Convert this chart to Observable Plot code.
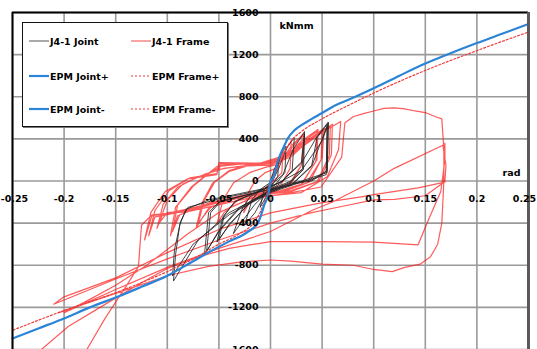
<!DOCTYPE html>
<html><head><meta charset="utf-8">
<script src="https://cdn.jsdelivr.net/npm/d3@7"></script>
<script src="https://cdn.jsdelivr.net/npm/@observablehq/plot@0.6"></script>
<style>
body{margin:0;background:#fff;}
#wrap{position:relative;width:537px;height:349px;overflow:hidden;font-family:"DejaVu Sans",sans-serif;}
#legend{position:absolute;left:22px;top:22px;width:204px;height:103px;border:1.5px solid #111;background:#fff;box-shadow:1px 1px 0 #777;}
.item{position:absolute;font-size:9.5px;font-weight:bold;display:flex;align-items:center;white-space:nowrap;color:#000;}
.item svg{margin-right:1px;}
</style></head>
<body><div id="wrap"><div id="chart"></div><div id="legend"></div></div>
<script>
// ---- tick values / labels ----
const xTicks = [-0.25,-0.2,-0.15,-0.1,-0.05,0,0.05,0.1,0.15,0.2,0.25];
const xTickLabels = ["-0.25","-0.2","-0.15","-0.1","-0.05","0","0.05","0.1","0.15","0.2","0.25"];
const yTicks = [1600,1200,800,400,0,-400,-800,-1200,-1600];
const yTickLabels = ["1600","1200","800","400","0","-400","-800","-1200","-1600"];

// ---- legend labels ----
const legendLabels = ["J4-1 Joint","J4-1 Frame","EPM Joint+","EPM Frame+","EPM Joint-","EPM Frame-"];

// ---- EPM skeleton curves [rad, kNmm] ----
const epmJointPos = [[0,0],[0.003,40],[0.0075,200],[0.0136,340],[0.0165,400],[0.023,480],[0.03,530],[0.04,590],[0.05,645],[0.062,715],[0.08,790],[0.1,880],[0.125,1000],[0.15,1115],[0.175,1215],[0.2,1310],[0.225,1400],[0.25,1490]];
const epmJointNeg = [[0,0],[-0.002,-120],[-0.006,-227],[-0.009,-320],[-0.012,-395],[-0.022,-483],[-0.041,-578],[-0.064,-700],[-0.086,-824],[-0.1,-900],[-0.125,-1005],[-0.147,-1095],[-0.175,-1200],[-0.2,-1305],[-0.225,-1400],[-0.25,-1495]];
const epmFramePos = [[0,0],[0.004,60],[0.009,170],[0.015,300],[0.02,380],[0.03,470],[0.05,590],[0.08,740],[0.1,835],[0.15,1050],[0.2,1238],[0.25,1415]];
const epmFrameNeg = [[0,0],[-0.003,-100],[-0.008,-250],[-0.015,-380],[-0.03,-500],[-0.05,-600],[-0.075,-740],[-0.1,-860],[-0.125,-965],[-0.15,-1060],[-0.2,-1230],[-0.25,-1418]];

// ---- J4-1 Joint test record ----
const joint = [[0,0],[0.004,120],[0.008,200],[0.007,40],[0,-60],[-0.006,-180],[-0.01,-250],[-0.006,-80],[0,-20],[0.005,80],
[0.01,250],[0.015,330],[0.014,80],[0.005,-30],[-0.005,-120],[-0.015,-300],[-0.025,-420],[-0.018,-180],[-0.01,-80],[0.002,0],[0.008,120],
[0.016,320],[0.023,410],[0.021,100],[0.01,-20],[0,-80],[-0.015,-220],[-0.028,-390],[-0.036,-500],[-0.028,-275],[-0.02,-150],[0,-40],[0.012,60],
[0.022,300],[0.033,470],[0.031,120],[0.02,0],[0,-80],[-0.02,-200],[-0.04,-420],[-0.052,-580],[-0.046,-340],[-0.035,-200],[-0.01,-90],[0.01,-10],[0.03,180],
[0.033,450],[0.032,110],[0.02,-10],[0,-90],[-0.02,-210],[-0.04,-410],[-0.05,-560],[-0.045,-330],[-0.034,-190],[-0.01,-90],[0.01,-10],[0.03,170],
[0.045,420],[0.056,560],[0.055,100],[0.04,10],[0.02,-20],[0,-90],[-0.03,-250],[-0.05,-470],[-0.064,-700],[-0.06,-300],[-0.05,-200],[-0.01,-100],[0.02,-40],[0.04,150],
[0.045,410],[0.055,540],[0.054,90],[0.04,0],[0.02,-30],[0,-100],[-0.03,-260],[-0.05,-480],[-0.062,-670],[-0.058,-300],[-0.048,-190],[-0.01,-100],[0.02,-40],[0.04,140],
[0.05,400],[0.056,550],[0.055,80],[0.03,0],[0,-100],[-0.04,-300],[-0.07,-560],[-0.094,-950],[-0.092,-700],[-0.088,-420],[-0.082,-270],[-0.06,-180],[-0.03,-120],[0,-60],
[0.03,100],[0.05,380],[0.055,520],[0.054,60],[0.03,-10],[0,-110],[-0.04,-320],[-0.075,-600],[-0.095,-900],[-0.093,-650],[-0.087,-380],[-0.08,-250],[-0.05,-170],[-0.02,-110],[0,-60]];

// ---- J4-1 Frame test record ----
const frame = [[0,0],[0.006,150],[0.012,280],[0.011,80],[0,-30],[-0.01,-90],[-0.02,-200],[-0.026,-300],[-0.022,-120],[-0.015,0],[-0.005,80],[0.005,120],
[0.012,250],[0.02,380],[0.019,120],[0.01,-40],[-0.01,-100],[-0.03,-170],[-0.045,-300],[-0.052,-410],[-0.046,-180],[-0.036,-20],[-0.02,80],[-0.005,130],[0.008,160],
[0.02,330],[0.032,450],[0.031,170],[0.02,-20],[0,-90],[-0.03,-140],[-0.06,-260],[-0.072,-440],[-0.066,-200],[-0.056,-20],[-0.04,100],[-0.02,160],[0,180],[0.012,210],
[0.028,400],[0.032,430],[0.03,150],[0.018,-30],[0,-100],[-0.03,-150],[-0.058,-250],[-0.07,-400],[-0.064,-180],[-0.054,-10],[-0.04,90],[-0.02,150],[0,170],[0.012,200],
[0.03,380],[0.046,490],[0.045,200],[0.03,-30],[0.01,-90],[-0.02,-120],[-0.06,-210],[-0.09,-330],[-0.097,-520],[-0.092,-250],[-0.077,-60],[-0.062,60],[-0.05,150],[-0.03,165],[-0.005,165],[0.012,220],
[0.03,360],[0.045,470],[0.044,190],[0.03,-40],[0.01,-100],[-0.02,-130],[-0.06,-220],[-0.088,-320],[-0.095,-480],[-0.09,-230],[-0.075,-50],[-0.06,70],[-0.048,140],[-0.03,160],[-0.005,160],[0.012,210],
[0.03,350],[0.05,480],[0.049,200],[0.035,-20],[0.01,-100],[-0.03,-150],[-0.075,-270],[-0.105,-330],[-0.11,-450],[-0.104,-220],[-0.09,-60],[-0.07,40],[-0.05,110],[-0.03,140],[0,150],[0.02,230],
[0.04,410],[0.06,540],[0.059,250],[0.047,0],[0.02,-90],[-0.02,-130],[-0.07,-240],[-0.1,-310],[-0.115,-330],[-0.122,-560],[-0.116,-300],[-0.102,-100],[-0.08,20],[-0.052,60],[-0.05,175],[-0.01,170],[0.02,260],
[0.035,380],[0.052,500],[0.05,220],[0.038,-10],[0.01,-110],[-0.04,-170],[-0.08,-280],[-0.1,-300],[-0.108,-400],[-0.1,-180],[-0.085,-30],[-0.065,60],[-0.045,120],[-0.02,150],[0.005,170],[0.02,250],
[0.04,400],[0.058,520],[0.057,240],[0.045,-10],[0.02,-100],[-0.02,-140],[-0.07,-250],[-0.1,-320],[-0.112,-340],[-0.118,-520],[-0.112,-280],[-0.098,-90],[-0.078,30],[-0.052,70],[-0.048,170],[-0.01,165],[0.02,250],
[0.05,460],[0.068,565],[0.066,300],[0.055,40],[0.03,-110],[-0.02,-160],[-0.08,-290],[-0.115,-322],[-0.125,-420],[-0.128,-814],[-0.14,-1000],[-0.16,-1300],[-0.175,-1550],[-0.185,-1720],
[-0.235,-1760],[-0.222,-1600],[-0.196,-1382],[-0.164,-1193],[-0.125,-966],[-0.1,-830],[-0.07,-720],[-0.04,-640],[0,-575],[0.05,-575],[0.1,-580],[0.143,-606],[0.153,-370],[0.165,-100],[0.169,200],[0.169,360],
[0.168,100],[0.167,-20],[0.15,-140],[0.12,-175],[0.1,-180],[0.07,-240],[0.04,-300],[0,-400],[-0.05,-560],[-0.1,-740],[-0.15,-930],[-0.2,-1130],[-0.21,-1170],
[-0.2,-1100],[-0.15,-920],[-0.1,-680],[-0.05,-460],[0,-303],[0.049,-208],[0.088,-150],[0.1,-130],[0.143,-66],[0.169,-10],[0.17,150],[0.167,340],
[0.12,120],[0.1,0],[0.06,-200],[0.04,-280],[0,-480],[-0.05,-640],[-0.1,-820],[-0.15,-1030],[-0.2,-1250],
[-0.18,-1150],[-0.15,-990],[-0.12,-800],[-0.1,-650],[-0.08,-500],[-0.05,-300],[-0.02,-170],[0.02,-110],[0.049,-57],[0.069,227],[0.072,550],
[0.08,610],[0.09,640],[0.1,665],[0.11,690],[0.12,695],[0.13,685],[0.14,665],[0.15,650],[0.16,610],[0.166,590],[0.168,300],[0.168,0],[0.166,-400],[0.162,-600],[0.155,-720],[0.145,-790],[0.13,-820],[0.118,-860],[0.1,-840],[0.08,-800],[0.05,-790],[0.02,-760],[0,-750],[-0.03,-770],[-0.06,-810],[-0.1,-900],[-0.13,-1000],[-0.16,-1100],[-0.19,-1200],[-0.205,-1250]];

const X = d => d[0], Y = d => d[1];
const lbl = {fontFamily: "DejaVu Sans", fontWeight: "bold", fontSize: 9.5, fill: "#000"};
const nX = xTicks.length;

const chart = Plot.plot({
  width: 537, height: 349,
  marginLeft: 12, marginRight: 9, marginTop: 12, marginBottom: 0,
  x: {domain: [-0.25, 0.25], axis: null},
  y: {domain: [-1600, 1600], axis: null},
  style: {background: "#fff", overflow: "visible"},
  marks: [
    Plot.ruleX(xTicks, {stroke: "#9a9a9a", strokeWidth: 1.6}),
    Plot.ruleY(yTicks, {stroke: "#9a9a9a", strokeWidth: 1.6}),
    Plot.line(frame, {x: X, y: Y, stroke: "#ff1414", strokeOpacity: 0.7, strokeWidth: 1.2, clip: true}),
    Plot.line(joint, {x: X, y: Y, stroke: "#262626", strokeOpacity: 0.85, strokeWidth: 1, clip: true}),
    Plot.line(epmFramePos, {x: X, y: Y, stroke: "#f03a3a", strokeWidth: 1.2, strokeDasharray: "2,2", curve: "monotone-x"}),
    Plot.line(epmFrameNeg, {x: X, y: Y, stroke: "#f03a3a", strokeWidth: 1.2, strokeDasharray: "2,2", curve: "monotone-x"}),
    Plot.line(epmJointPos, {x: X, y: Y, stroke: "#2b84d6", strokeWidth: 2.2, curve: "monotone-x"}),
    Plot.line(epmJointNeg, {x: X, y: Y, stroke: "#2b84d6", strokeWidth: 2.2, curve: "monotone-x"}),
    Plot.ruleX([-0.25], {stroke: "#000", strokeWidth: 2}),
    Plot.ruleY([1600], {stroke: "#000", strokeWidth: 2}),
    Plot.ruleX([0.25], {stroke: "#5a5a5a", strokeWidth: 3}),
    Plot.text(xTicks.slice(1, nX - 1), {x: d => d, y: 0, text: (d, i) => xTickLabels[i + 1], dy: 18, textAnchor: "middle", ...lbl}),
    Plot.text([xTicks[0]], {x: d => d, y: 0, text: () => xTickLabels[0], dy: 18, dx: 2, textAnchor: "middle", ...lbl}),
    Plot.text([xTicks[nX - 1]], {x: d => d, y: 0, text: () => xTickLabels[nX - 1], dy: 18, dx: -4, textAnchor: "middle", ...lbl}),
    Plot.text(yTicks, {x: 0, y: d => d, text: (d, i) => yTickLabels[i], dx: -12, textAnchor: "end", ...lbl}),
    Plot.text(["kNmm"], {x: 0, y: 1600, text: d => d, dx: 9, dy: 13, textAnchor: "start", ...lbl}),
    Plot.text(["rad"], {x: 0.25, y: 0, text: d => d, dx: -8, dy: -8, textAnchor: "end", ...lbl})
  ]
});
document.getElementById("chart").appendChild(chart);

// ---- legend (inside plot area, top-left) ----
const legendStyles = [
  {stroke: "#555", w: 1, dash: null},
  {stroke: "#f04a4a", w: 1, dash: null},
  {stroke: "#2b84d6", w: 2.2, dash: null},
  {stroke: "#f03a3a", w: 1.2, dash: "2,2"},
  {stroke: "#2b84d6", w: 2.2, dash: null},
  {stroke: "#f03a3a", w: 1.2, dash: "2,2"}
];
const rowsY = [18, 53, 86];
const colsX = [6, 108];
const leg = document.getElementById("legend");
legendLabels.forEach((t, i) => {
  const r = Math.floor(i / 2), c = i % 2, s = legendStyles[i];
  const div = document.createElement("div");
  div.className = "item";
  div.style.left = colsX[c] + "px";
  div.style.top = (rowsY[r] - 7) + "px";
  div.style.height = "14px";
  div.innerHTML = `<svg width="20" height="6"><line x1="0" y1="3" x2="20" y2="3" stroke="${s.stroke}" stroke-width="${s.w}" ${s.dash ? `stroke-dasharray="${s.dash}"` : ""}/></svg><span>${t}</span>`;
  leg.appendChild(div);
});
</script>
</body></html>
